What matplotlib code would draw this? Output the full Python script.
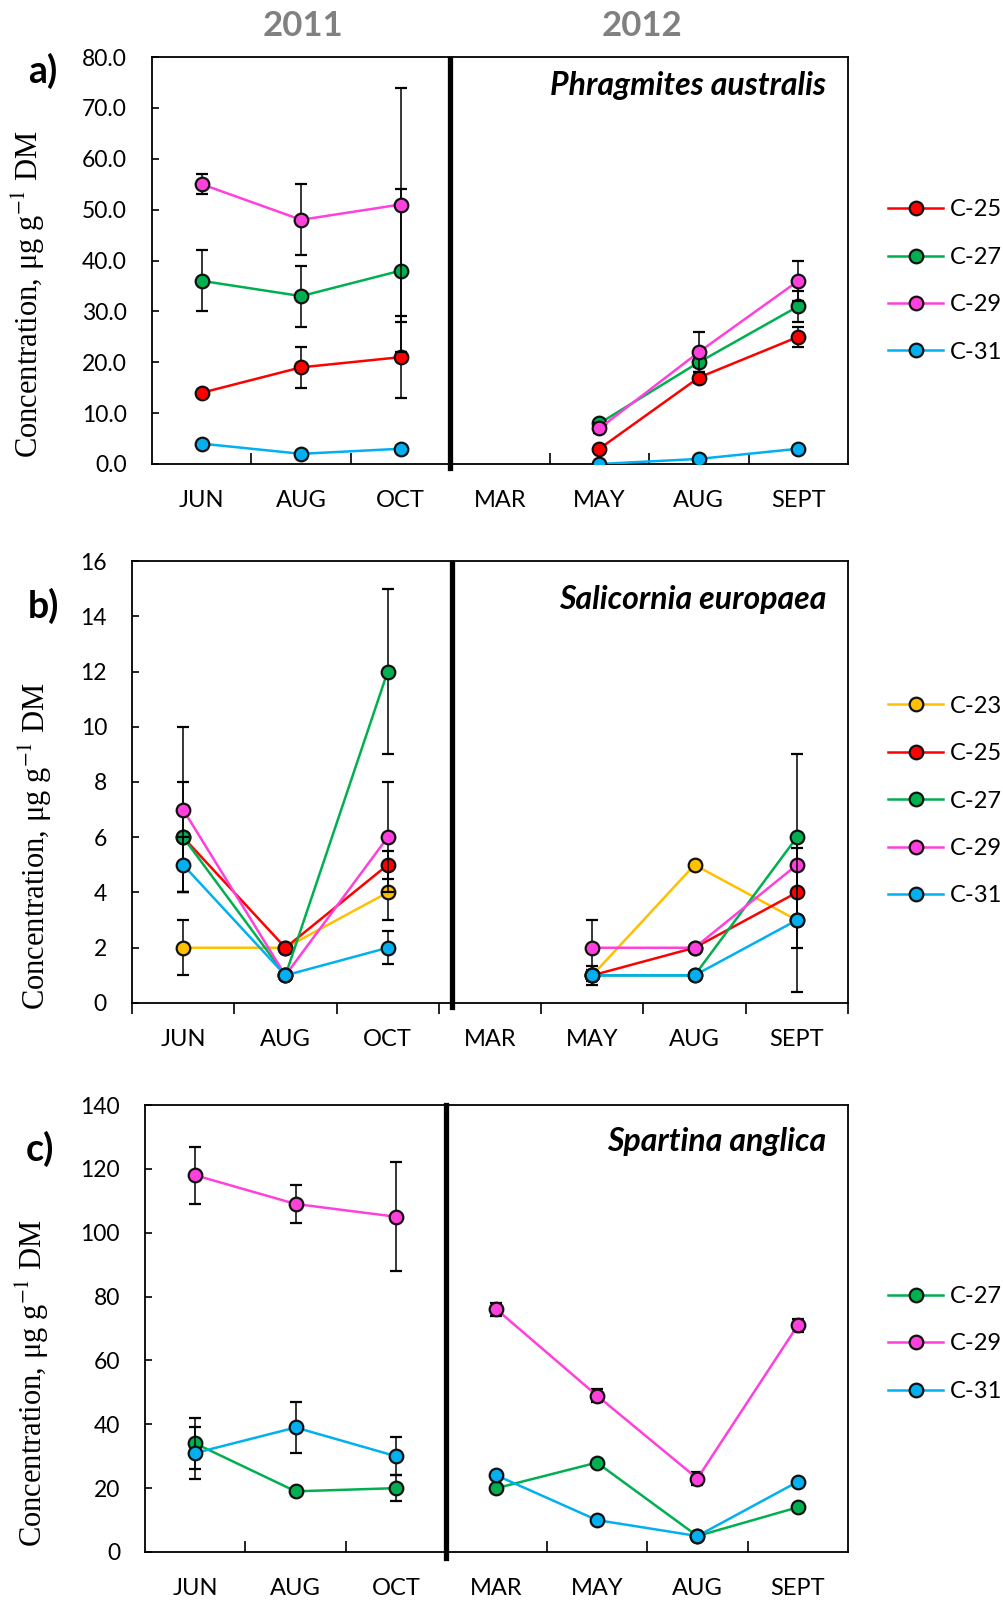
import numpy as np
import matplotlib
matplotlib.use('Agg')
import matplotlib.pyplot as plt
from matplotlib.lines import Line2D

plt.rcParams['font.family'] = ['Lato', 'DejaVu Sans']
plt.rcParams['mathtext.fontset'] = 'stix'

nan = np.nan
months = ['JUN', 'AUG', 'OCT', 'MAR', 'MAY', 'AUG', 'SEPT']
years = ['2011', '2012']

colors = {'C-23': '#FFC000', 'C-25': '#FF0000', 'C-27': '#00B050',
          'C-29': '#FF40DC', 'C-31': '#00B0F0'}

# Panel a) Phragmites australis
a_species = 'Phragmites australis'
a_labels = ['C-25', 'C-27', 'C-29', 'C-31']
a_c25 = [14, 19, 21, nan, 3, 17, 25]
a_c27 = [36, 33, 38, nan, 8, 20, 31]
a_c29 = [55, 48, 51, nan, 7, 22, 36]
a_c31 = [4, 2, 3, nan, 0, 1, 3]
a_c25_err = [0.5, 4, 8, nan, 0.5, 1, 2]
a_c27_err = [6, 6, 16, nan, 0.5, 1, 3]
a_c29_err = [2, 7, 23, nan, 1, 4, 4]
a_c31_err = [0.5, 0.5, 0.5, nan, 0, 0.3, 0.5]
a_yticks = [0, 10, 20, 30, 40, 50, 60, 70, 80]

# Panel b) Salicornia europaea
b_species = 'Salicornia europaea'
b_labels = ['C-23', 'C-25', 'C-27', 'C-29', 'C-31']
b_c23 = [2, 2, 4, nan, 1, 5, 3]
b_c25 = [6, 2, 5, nan, 1, 2, 4]
b_c27 = [6, 1, 12, nan, 1, 1, 6]
b_c29 = [7, 1, 6, nan, 2, 2, 5]
b_c31 = [5, 1, 2, nan, 1, 1, 3]
b_c23_err = [1, 0, 1, nan, 0.2, 0, 0]
b_c25_err = [0, 0, 0.5, nan, 0, 0, 2]
b_c27_err = [2, 0, 3, nan, 0, 0, 3]
b_c29_err = [3, 0, 2, nan, 1, 0, 0]
b_c31_err = [1, 0, 0.6, nan, 0.35, 0, 2.6]
b_yticks = [0, 2, 4, 6, 8, 10, 12, 14, 16]

# Panel c) Spartina anglica
c_species = 'Spartina anglica'
c_labels = ['C-27', 'C-29', 'C-31']
c_c27 = [34, 19, 20, 20, 28, 5, 14]
c_c29 = [118, 109, 105, 76, 49, 23, 71]
c_c31 = [31, 39, 30, 24, 10, 5, 22]
c_c27_err = [8, 1, 4, 0, 0, 0, 0]
c_c29_err = [9, 6, 17, 2, 2, 2, 2]
c_c31_err = [8, 8, 6, 0, 0, 0, 0]
c_yticks = [0, 20, 40, 60, 80, 100, 120, 140]

W, H = 1004, 1600
fig = plt.figure(figsize=(W / 100, H / 100), dpi=100)


def fx(px):
    return px / W


def fy(py):
    return 1 - py / H


def panel(box, labels, values, errors, yticks, fmt, xdir, minor, divider,
          div_span, species, species_y, letter, letter_xy, ylab_xy, leg_y):
    l, t, r, b = box
    ax = fig.add_axes([fx(l), fy(b), fx(r - l), (b - t) / H])
    x = np.arange(len(months))
    handles = []
    for i, (lab, v, e) in enumerate(zip(labels, values, errors)):
        col = colors[lab]
        for sl in (slice(0, 3), slice(3, 7)):
            ys = np.array(v[sl], float)
            es = np.nan_to_num(np.array(e[sl], float))
            ax.errorbar(x[sl], ys, yerr=es, color=col, lw=1.8, marker='o',
                        ms=9.8, mfc=col, mec='#111111', mew=1.6,
                        ecolor='black', elinewidth=1.1, capsize=4.5,
                        capthick=1.1, zorder=3 + i)
        handles.append(Line2D([], [], color=col, lw=1.8, marker='o', ms=9.8,
                              mfc=col, mec='#111111', mew=1.6, label=lab))
    ax.set_xlim(-0.5, 6.5)
    ax.set_ylim(yticks[0], yticks[-1])
    ax.set_yticks(yticks)
    ax.set_yticklabels([fmt.format(v) for v in yticks])
    ax.set_xticks(x)
    ax.set_xticklabels(months)
    ax.set_xticks(minor, minor=True)
    ax.tick_params(axis='x', which='major', length=0, pad=19, labelsize=17)
    ax.tick_params(axis='x', which='minor', length=8, width=1.2,
                   direction=xdir)
    ax.tick_params(axis='y', which='major', length=5, width=1.2,
                   direction='in', pad=18, labelsize=16.5)
    for s in ax.spines.values():
        s.set_linewidth(1.3)
    ax.axvline(divider, ymin=div_span[0], ymax=div_span[1], color='black',
               lw=3.8, clip_on=False, zorder=20)
    fig.text(fx(826), fy(species_y), species, ha='right', va='center',
             fontsize=23, fontweight='bold', fontstyle='italic')
    fig.text(fx(letter_xy[0]), fy(letter_xy[1]), letter, ha='center',
             va='center', fontsize=27, fontweight='bold')
    fig.text(fx(ylab_xy[0]), fy(ylab_xy[1]),
             r'Concentration, μg g$^{-1}$ DM', rotation=90, ha='center',
             va='center', fontsize=22, family=['Liberation Serif'])
    fig.legend(handles=handles, loc='center left',
               bbox_to_anchor=(fx(888), fy(leg_y)), frameon=False,
               fontsize=17, handlelength=2.35, handletextpad=0.25,
               labelspacing=1.12, borderpad=0, borderaxespad=0)
    return ax


panel((152, 57, 848, 464), a_labels, [a_c25, a_c27, a_c29, a_c31],
      [a_c25_err, a_c27_err, a_c29_err, a_c31_err], a_yticks, '{:.1f}', 'in',
      [0.5, 1.5, 3.5, 4.5, 5.5], 2.5, (-0.01, 0.995), a_species, 85,
      'a)', (43, 71), (28, 294), 281)

panel((132, 561, 848, 1003), b_labels, [b_c23, b_c25, b_c27, b_c29, b_c31],
      [b_c23_err, b_c25_err, b_c27_err, b_c29_err, b_c31_err], b_yticks,
      '{:d}', 'out', [-0.5, 0.5, 1.5, 2.5, 3.5, 4.5, 5.5, 6.5], 2.63,
      (-0.009, 0.995), b_species, 600, 'b)', (43, 606), (35, 846), 801)

panel((145, 1105, 848, 1552), c_labels, [c_c27, c_c29, c_c31],
      [c_c27_err, c_c29_err, c_c31_err], c_yticks, '{:d}', 'in',
      [0.5, 1.5, 3.5, 4.5, 5.5], 2.5, (-0.0135, 1.0), c_species, 1141,
      'c)', (40, 1149), (32, 1383), 1344)

fig.text(fx(303), fy(26), years[0], ha='center', va='center', fontsize=25,
         fontweight='bold', color='#808080')
fig.text(fx(642), fy(26), years[1], ha='center', va='center', fontsize=25,
         fontweight='bold', color='#808080')

fig.savefig('out.png', dpi=100)
